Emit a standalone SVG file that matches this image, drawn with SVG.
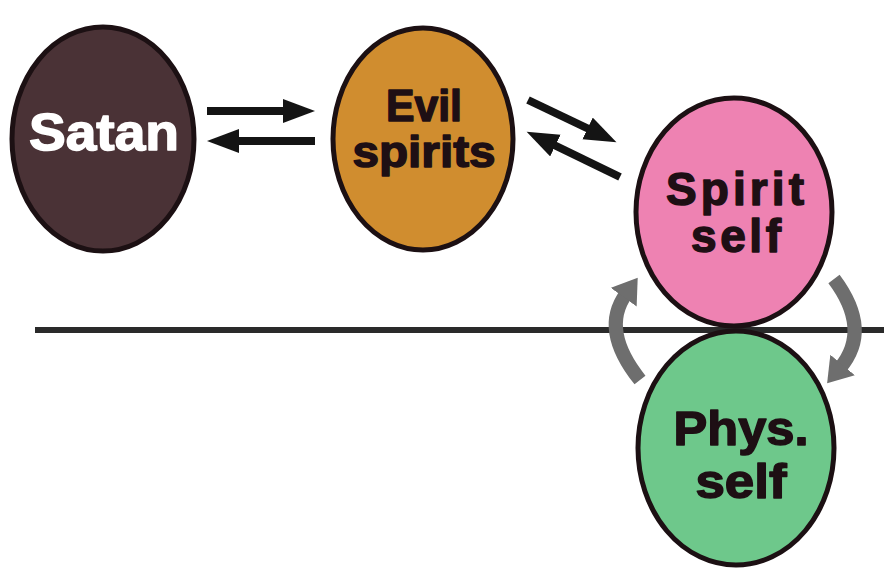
<svg xmlns="http://www.w3.org/2000/svg" width="884" height="570" viewBox="0 0 884 570">
  <style>
    .node { stroke: #1c1013; stroke-width: 5; }
    .lbl { font-family: "Liberation Sans", Arial, sans-serif; font-weight: bold; text-anchor: middle; stroke-width: 1.5; stroke-linejoin: round; }
    .dark { fill: #1e0f14; stroke: #1e0f14; }
    .light { fill: #ffffff; stroke: #ffffff; }
    .arrow { stroke: #141414; stroke-width: 8; fill: none; }
    .cyc { stroke: #6e6e6e; stroke-width: 14; fill: none; }
  </style>
  <defs>
    <marker id="ah" markerUnits="userSpaceOnUse" markerWidth="34" markerHeight="26" refX="6" refY="12" orient="auto">
      <path d="M0,0 L32,12 L0,24 z" fill="#141414"/>
    </marker>
    <marker id="gh" markerUnits="userSpaceOnUse" markerWidth="26" markerHeight="34" refX="4" refY="16" orient="auto">
      <path d="M0,0 L24,16 L0,32 z" fill="#6e6e6e"/>
    </marker>
  </defs>
  <rect width="884" height="570" fill="#ffffff"/>
  <line x1="35" y1="330" x2="884" y2="330" stroke="#2a2a2a" stroke-width="6"/>

  <g id="satan">
    <ellipse class="node" cx="103" cy="139" rx="91" ry="112" fill="#4a3236"/>
    <text class="lbl light" x="104" y="150" font-size="52" textLength="150" lengthAdjust="spacingAndGlyphs">Satan</text>
  </g>
  <g id="evil-spirits">
    <ellipse class="node" cx="423" cy="139" rx="90" ry="111" fill="#d08d2f"/>
    <text class="lbl dark" x="424" y="121" font-size="44" textLength="76" lengthAdjust="spacingAndGlyphs">Evil</text>
    <text class="lbl dark" x="424" y="167" font-size="44" textLength="143" lengthAdjust="spacingAndGlyphs">spirits</text>
  </g>
  <g id="spirit-self">
    <ellipse class="node" cx="734" cy="212" rx="98" ry="114" fill="#ee82b2"/>
    <text class="lbl dark" x="735" y="205" font-size="46" textLength="138" lengthAdjust="spacing">Spirit</text>
    <text class="lbl dark" x="736" y="252" font-size="46" textLength="90" lengthAdjust="spacing">self</text>
  </g>
  <g id="phys-self">
    <ellipse class="node" cx="736" cy="448" rx="98" ry="117" fill="#6ec88b"/>
    <text class="lbl dark" x="741" y="445" font-size="48" textLength="135" lengthAdjust="spacingAndGlyphs">Phys.</text>
    <text class="lbl dark" x="741" y="498" font-size="48" textLength="91" lengthAdjust="spacingAndGlyphs">self</text>
  </g>

  <g id="connectors">
    <line class="arrow" x1="207" y1="111" x2="289" y2="111" marker-end="url(#ah)"/>
    <line class="arrow" x1="315" y1="141" x2="233" y2="141" marker-end="url(#ah)"/>
    <line class="arrow" x1="528" y1="100" x2="593" y2="131" marker-end="url(#ah)"/>
    <line class="arrow" x1="620" y1="177" x2="550" y2="143" marker-end="url(#ah)"/>
    <path class="cyc" d="M 640 380 Q 600 330 626 294" marker-end="url(#gh)"/>
    <path class="cyc" d="M 834 279 Q 872 330 840 368" marker-end="url(#gh)"/>
  </g>
</svg>
